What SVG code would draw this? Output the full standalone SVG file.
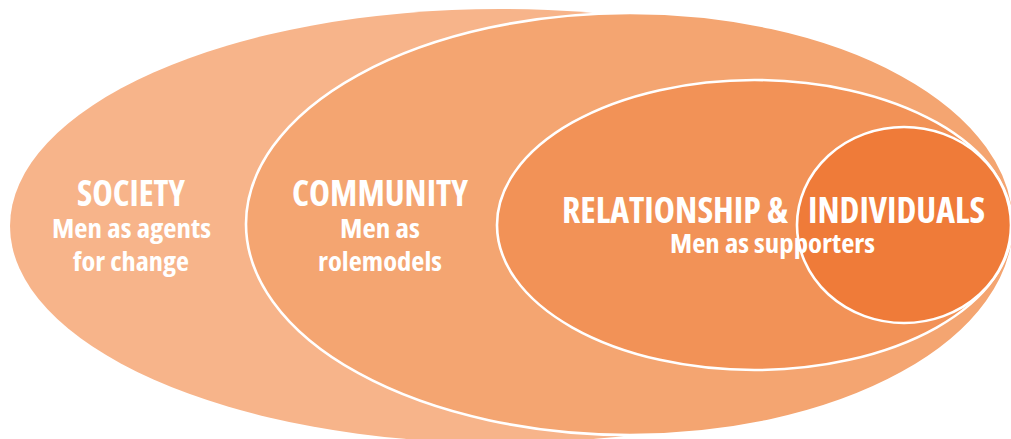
<svg xmlns="http://www.w3.org/2000/svg" width="1011" height="439" viewBox="0 0 1011 439">
<style>
.ring{stroke:#FFFFFF;stroke-width:2.6}
.t{font-family:"Open Sans","Liberation Sans",sans-serif;font-weight:700;font-stretch:condensed;fill:#FFFFFF;text-anchor:middle}
.h{font-size:36px}
.s{font-size:27px}
</style>
<rect width="1011" height="439" fill="#FFFFFF"/>
<g id="society">
<ellipse cx="500" cy="226" rx="490" ry="217" fill="#F7B48A"/>
</g>
<g id="community">
<ellipse class="ring" cx="630" cy="224" rx="384" ry="211" fill="#F4A571"/>
</g>
<g id="relationship">
<ellipse class="ring" cx="754.5" cy="225" rx="257.5" ry="145" fill="#F29257"/>
</g>
<g id="individuals">
<ellipse class="ring" cx="904" cy="225" rx="107" ry="98" fill="#EF7B39"/>
</g>
<g id="labels">
<text class="t h" x="131" y="206" textLength="108" lengthAdjust="spacingAndGlyphs">SOCIETY</text>
<text class="t s" x="131.5" y="238" textLength="159" lengthAdjust="spacingAndGlyphs">Men as agents</text>
<text class="t s" x="131" y="271" textLength="116" lengthAdjust="spacingAndGlyphs">for change</text>
<text class="t h" x="380" y="206" textLength="176" lengthAdjust="spacingAndGlyphs">COMMUNITY</text>
<text class="t s" x="380" y="238" textLength="80" lengthAdjust="spacingAndGlyphs">Men as</text>
<text class="t s" x="380" y="271" textLength="124" lengthAdjust="spacingAndGlyphs">rolemodels</text>
<text class="t h" x="675" y="223" textLength="226" lengthAdjust="spacingAndGlyphs">RELATIONSHIP &amp;</text>
<text class="t h" x="896.5" y="223" textLength="177" lengthAdjust="spacingAndGlyphs">INDIVIDUALS</text>
<text class="t s" x="772.5" y="253" textLength="205" lengthAdjust="spacingAndGlyphs">Men as supporters</text>
</g>
</svg>
